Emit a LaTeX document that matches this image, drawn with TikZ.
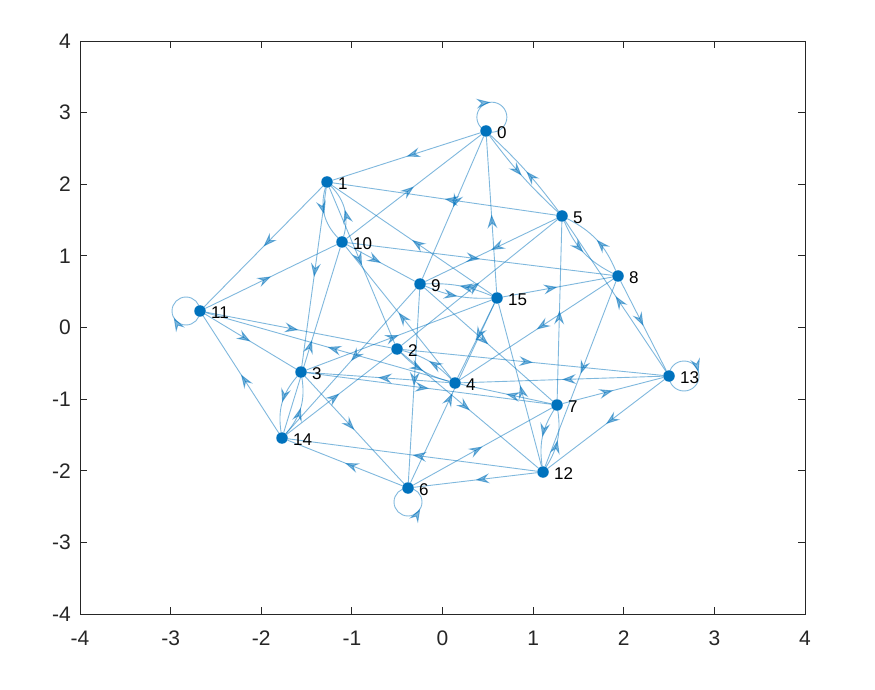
\documentclass[tikz,border=0pt]{standalone}
\usepackage{fontspec}
\setmainfont{Liberation Sans}
\usetikzlibrary{arrows.meta,decorations.markings}
\definecolor{mblue}{RGB}{0,114,189}
\definecolor{axgray}{RGB}{38,38,38}
\pgfdeclarelayer{back}
\pgfdeclarelayer{bg}
\pgfsetlayers{back,bg,main}
\tikzset{
  mtip/.tip={Stealth[length=14pt,width=10pt,inset=5pt]},
  eline/.style={draw=mblue, line width=0.9pt, opacity=0.5},
  arr/.style={postaction={decorate}, decoration={markings, mark=at position #1 with {\arrow{mtip}}}},
  arr/.default=0.5,
  edge/.style={eline, arr},
  loopedge/.style={eline, arr=#1},
  vert/.style={circle, fill=mblue, inner sep=0pt, minimum size=11.5pt},
  lab/.style={anchor=west, inner sep=0pt, font=\fontsize{17}{17}\selectfont, text=black},
  tickx/.style={anchor=center, inner sep=0pt, font=\fontsize{21}{21}\selectfont, text=axgray},
  ticky/.style={anchor=east, inner sep=0pt, font=\fontsize{21}{21}\selectfont, text=axgray},
  frame/.style={draw=axgray, line width=0.9pt}
}
\begin{document}
\begin{tikzpicture}[x=1pt,y=1pt]
\useasboundingbox (0,0) rectangle (875,689);
\begin{pgfonlayer}{back}
\fill[white] (0,0) rectangle (875,689);
\end{pgfonlayer}
% axes frame
\draw[frame] (80,75) rectangle (805,648);
\foreach \i/\v in {0/-4,1/-3,2/-2,3/-1,4/0,5/1,6/2,7/3,8/4}{
  \pgfmathsetmacro{\xx}{80+\i*90.625}
  \pgfmathsetmacro{\yy}{75+\i*71.625}
  \draw[frame] (\xx,75) -- (\xx,82);
  \draw[frame] (\xx,648) -- (\xx,641);
  \draw[frame] (80,\yy) -- (87,\yy);
  \draw[frame] (805,\yy) -- (798,\yy);
  \node[tickx] (tx\i) at (\xx,51) {\v};
  \node[ticky] (ty\i) at (71,\yy) {\v};
}
% vertices
\node[vert] (n0) at (486,558) {};
\node[vert] (n1) at (327,507) {};
\node[vert] (n2) at (397,340) {};
\node[vert] (n3) at (301,317) {};
\node[vert] (n4) at (455,306) {};
\node[vert] (n5) at (562,473) {};
\node[vert] (n6) at (408,201) {};
\node[vert] (n7) at (557,284) {};
\node[vert] (n8) at (618,413) {};
\node[vert] (n9) at (420,405) {};
\node[vert] (n10) at (342,447) {};
\node[vert] (n11) at (200,378) {};
\node[vert] (n12) at (543,217) {};
\node[vert] (n13) at (669,313) {};
\node[vert] (n14) at (282,251) {};
\node[vert] (n15) at (497,391) {};
\foreach \k in {0,...,15}{
  \node[lab] (l\k) at ([xshift=11pt,yshift=-2pt]n\k.center) {\k};
}
\begin{pgfonlayer}{bg}
\draw[edge] (n0) -- (n1);
\draw[edge] (n10) -- (n0);
\draw[edge] (n0) -- (n9);
\draw[edge] (n15) -- (n0);
\draw[edge] (n0) to[bend right=5] (n5);
\draw[edge] (n5) to[bend right=5] (n0);
\draw[edge] (n5) -- (n1);
\draw[edge] (n1) -- (n11);
\draw[edge] (n1) to[bend right=30] (n10);
\draw[edge] (n10) to[bend right=30] (n1);
\draw[edge] (n1) -- (n3);
\draw[edge] (n15) -- (n1);
\draw[edge] (n1) -- (n2);
\draw[edge] (n11) -- (n10);
\draw[edge] (n10) -- (n8);
\draw[edge] (n10) -- (n9);
\draw[edge] (n14) -- (n10);
\draw[edge] (n4) -- (n10);
\draw[edge] (n5) -- (n9);
\draw[edge] (n2) -- (n5);
\draw[edge] (n5) to[bend right=20] (n8);
\draw[edge] (n8) to[bend right=20] (n5);
\draw[edge] (n13) -- (n5);
\draw[edge] (n7) -- (n5);
\draw[edge] (n9) to[bend right=12] (n15);
\draw[edge] (n15) to[bend right=12] (n9);
\draw[edge] (n15) -- (n8);
\draw[edge] (n12) -- (n15);
\draw[edge] (n15) -- (n4);
\draw[edge] (n6) -- (n15);
\draw[edge] (n3) -- (n15);
\draw[edge] (n8) -- (n13);
\draw[edge] (n8) -- (n4);
\draw[edge] (n8) -- (n12);
\draw[edge] (n13) -- (n4);
\draw[edge] (n2) -- (n13);
\draw[edge] (n7) -- (n13);
\draw[edge] (n13) -- (n12);
\draw[edge] (n3) -- (n7);
\draw[edge] (n7) -- (n4);
\draw[edge] (n7) to[bend right=20] (n12);
\draw[edge] (n12) to[bend right=20] (n7);
\draw[edge] (n6) -- (n7);
\draw[edge] (n9) -- (n7);
\draw[edge] (n12) -- (n14);
\draw[edge] (n12) -- (n6);
\draw[edge] (n2) -- (n12);
\draw[edge] (n9) -- (n6);
\draw[edge] (n3) -- (n6);
\draw[edge] (n6) -- (n14);
\draw[edge] (n14) -- (n11);
\draw[edge] (n14) -- (n2);
\draw[edge] (n9) -- (n14);
\draw[edge] (n3) to[bend right=25] (n14);
\draw[edge] (n14) to[bend right=25] (n3);
\draw[edge] (n11) -- (n3);
\draw[edge] (n11) -- (n2);
\draw[edge] (n4) -- (n11);
\draw[edge] (n4) -- (n3);
\draw[edge] (n2) to[bend right=15] (n4);
\draw[edge] (n4) to[bend right=15] (n2);
% self loops
\draw[loopedge=0.42] (n0.center) arc[start angle=247, delta angle=-360, radius=15];
\draw[loopedge=0.42] (n11.center) arc[start angle=0, delta angle=-360, radius=14];
\draw[loopedge=0.46] (n13.center) arc[start angle=180, delta angle=-360, radius=15];
\draw[loopedge=0.67] (n6.center) arc[start angle=90, delta angle=360, radius=14];
\end{pgfonlayer}
\end{tikzpicture}
\end{document}
